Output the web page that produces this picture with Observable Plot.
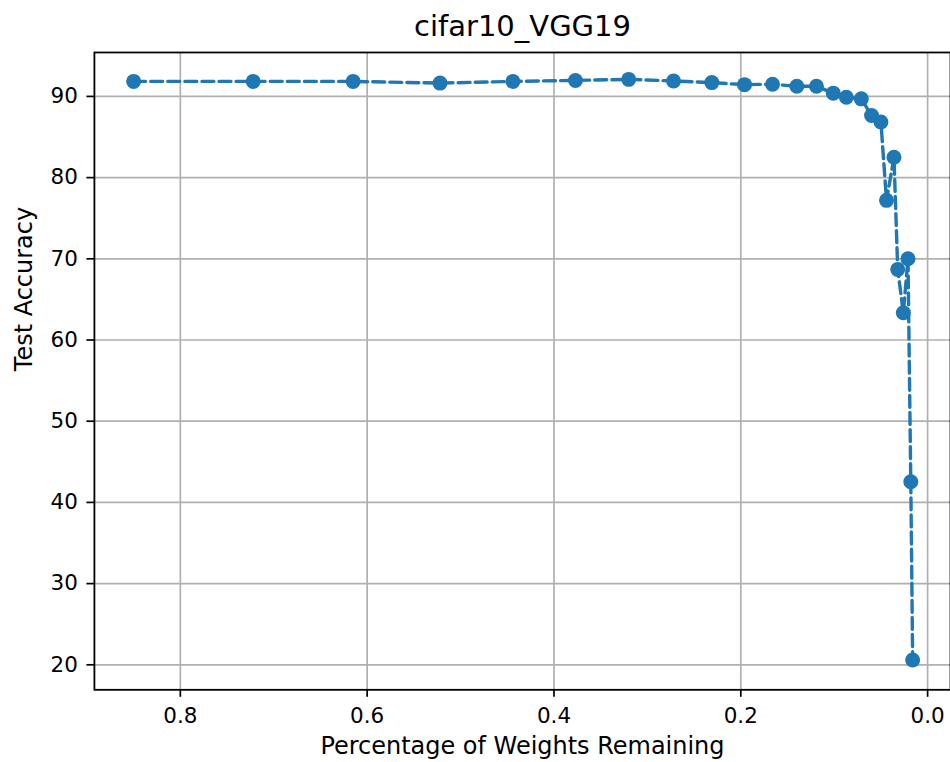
<!DOCTYPE html>
<html>
<head>
<meta charset="utf-8">
<script src="https://cdn.jsdelivr.net/npm/d3@7"></script>
<script src="https://cdn.jsdelivr.net/npm/@observablehq/plot@0.6"></script>
<style>
  html, body { margin: 0; padding: 0; background: #fff; overflow: hidden; }
  #title { height: 44px; box-sizing: border-box; padding-top: 12px; padding-left: 94px; width: 951px;
           font-family: "DejaVu Sans"; font-size: 29px; line-height: 29px; text-align: center; color: #000; }
  svg { display: block; }
</style>
</head>
<body>
<div id="title">cifar10_VGG19</div>
<div id="chart"></div>
<script>
const title = "cifar10_VGG19";
const xLabel = "Percentage of Weights Remaining";
const yLabel = "Test Accuracy";
const weightsRemaining = [0.850, 0.722, 0.615, 0.522, 0.444, 0.377, 0.320, 0.272, 0.231, 0.196, 0.166, 0.140, 0.119, 0.101, 0.087, 0.071, 0.060, 0.050, 0.044, 0.036, 0.032, 0.026, 0.021, 0.018, 0.016];
const testAccuracy = [91.85, 91.85, 91.85, 91.64, 91.85, 91.97, 92.1, 91.9, 91.7, 91.45, 91.5, 91.25, 91.25, 90.4, 89.9, 89.7, 87.65, 86.85, 77.2, 82.5, 68.7, 63.35, 70.0, 42.55, 20.6];
const xTicks = [0.8, 0.6, 0.4, 0.2, 0.0];
const yTicks = [20, 30, 40, 50, 60, 70, 80, 90];

const data = weightsRemaining.map((w, i) => ({w, acc: testAccuracy[i]}));
const blue = "#1f77b4";

const chart = Plot.plot({
  width: 951,
  height: 718,
  marginLeft: 94,
  marginRight: 0,
  marginTop: 8,
  marginBottom: 72,
  style: {fontFamily: "DejaVu Sans", fontSize: "21.5px", color: "#000", background: "#fff"},
  x: {domain: [0.892, -0.0245]},
  y: {domain: [16.92, 95.41]},
  marks: [
    Plot.gridX(xTicks, {stroke: "#b0b0b0", strokeOpacity: 1, strokeWidth: 1.7}),
    Plot.gridY(yTicks, {stroke: "#b0b0b0", strokeOpacity: 1, strokeWidth: 1.7}),
    Plot.line(data, {x: "w", y: "acc", stroke: blue, strokeWidth: 3.4, strokeDasharray: "11.9,5.2", curve: "linear"}),
    Plot.dot(data, {x: "w", y: "acc", r: 7.5, fill: blue, stroke: "none"}),
    Plot.frame({stroke: "#000", strokeWidth: 1.8}),
    Plot.axisX(xTicks, {tickFormat: d3.format(".1f"), tickSize: 7.5, tickPadding: 10.5, strokeWidth: 1.7, fontSize: 21.5, label: null}),
    Plot.axisY(yTicks, {tickFormat: d3.format("d"), tickSize: 7.5, tickPadding: 9, strokeWidth: 1.7, fontSize: 21.5, label: null}),
    Plot.text([xLabel], {frameAnchor: "bottom", text: d => d, dy: 64, lineAnchor: "bottom", fontSize: 24, fill: "#000"}),
    Plot.text([yLabel], {frameAnchor: "left", text: d => d, dx: -62, rotate: -90, lineAnchor: "bottom", fontSize: 24, fill: "#000"})
  ]
});
document.getElementById("chart").appendChild(chart);
</script>
</body>
</html>
